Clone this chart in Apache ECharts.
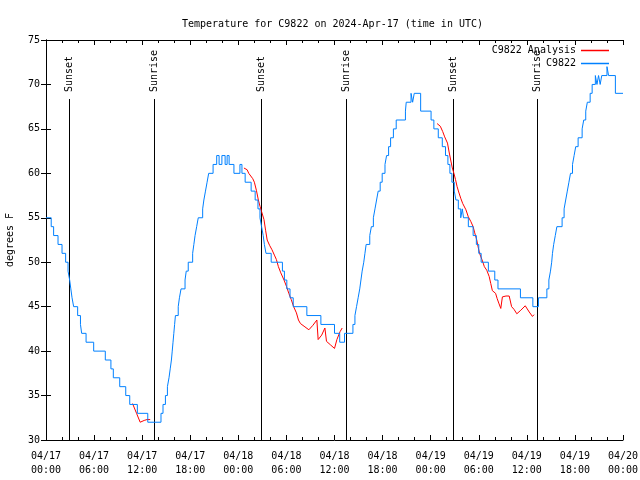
<!DOCTYPE html>
<html>
<head>
<meta charset="utf-8">
<script src="https://cdn.jsdelivr.net/npm/echarts@6/dist/echarts.min.js"></script>
<style>html,body{margin:0;padding:0;background:#fff;}#c{width:640px;height:480px;}</style>
</head>
<body>
<div id="c"></div>
<script>
// Hours since 2024-04-17 00:00 UTC, temperature in degrees F
const stationName = 'C9822';
const analysisName = 'C9822 Analysis';
const titleText = 'Temperature for C9822 on 2024-Apr-17 (time in UTC)';

// Station observations (plateau start hour, value)
const c9822Day1 = [[0,55],[0.65,54],[0.95,53],[1.5,52],[2.0,51],[2.45,50],[2.75,49],[2.95,48],[3.1,47],[3.25,46],[3.45,45],[3.95,44],[4.3,43],[4.45,42],[5.0,41],[5.95,40],[7.4,39],[8.1,38],[8.4,37],[9.2,36],[9.95,35],[10.45,34],[11.4,33],[12.7,32],
  [14.35,33],[14.6,34],[14.9,35],[15.15,36],[15.35,37],[15.5,38],[15.65,39],[15.75,40],[15.85,41],[15.95,42],[16.05,43],[16.15,44],[16.5,45],[16.65,46],[16.85,47],[17.35,48],[17.5,49],[17.75,50],[18.3,51],[18.45,52],[18.6,53],[18.8,54],[19.0,55],[19.55,56],[19.7,57],[19.9,58],[20.1,59],[20.3,60],[20.85,61],[21.3,62],[21.6,61],[21.95,62],[22.35,61],[22.6,62],[22.85,61],[23.45,60]];
const c9822Day2 = [[24.2,61],[24.45,60],[24.85,59],[25.6,58],[26.1,57],[26.45,56],[26.7,55],[26.9,54],[27.1,53],[27.25,52],[27.45,51],[28.1,50],[29.5,49],[29.75,48],[30.05,47],[30.45,46],[30.85,45],[32.55,44],[34.3,43],[36.0,42],[36.65,41],[37.25,42],
  [38.3,43],[38.55,44],[38.75,45],[38.95,46],[39.15,47],[39.3,48],[39.45,49],[39.65,50],[39.8,51],[39.95,52],[40.4,53],[40.6,54],[40.85,55],[41.05,56],[41.25,57],[41.45,58],[41.7,59],[41.95,60],[42.3,61],[42.5,62],[42.75,63],[43.0,64],[43.35,65],[43.7,66],[44.85,67],[44.95,68],[45.55,69],[45.75,68],[45.95,69],[46.75,67]];
const c9822Day3 = [[48.05,66],[48.4,65],[48.95,64],[49.45,63],[49.85,62],[50.15,61],[50.4,60],[50.65,59],[50.95,58],[51.15,57],[51.45,56],[51.75,55],[51.95,56],[52.1,55],[52.7,54],[53.3,53],[53.7,52],[54.0,51],[54.3,50],[55.2,49],[56.0,48],[56.4,47],[59.2,46],[60.75,45],[61.45,46],
  [62.5,47],[62.75,48],[62.95,49],[63.1,50],[63.2,51],[63.35,52],[63.55,53],[63.75,54],[64.4,55],[64.65,56],[64.85,57],[65.05,58],[65.25,59],[65.45,60],[65.7,61],[65.9,62],[66.1,63],[66.4,64],[66.9,65],[67.1,66],[67.35,67],[67.55,68],[67.9,69],[68.15,70],[68.55,71],[68.75,70],[68.95,71],[69.15,70],[69.35,71],[70.0,72],[70.2,71],[71.05,69],[72,69]];

// Analysis segments
const analysisSeg1 = [[10.8,34.1],[11.0,34.0],[11.3,33.0],[11.75,32.0],[12.25,32.2],[12.6,32.3],[13.0,32.3]];
const analysisSeg2 = [[24.7,60.6],[25.1,60.4],[25.3,60],[25.8,59.4],[26.0,59],[26.25,58.1],[26.5,57],[26.7,56.3],[26.9,55.7],[27.2,54.8],[27.4,53.6],[27.6,52.5],[27.9,51.9],[28.2,51.4],[28.5,50.8],[28.75,50.3],[29.0,49.5],[29.3,48.8],[29.7,48],[30.0,47.3],[30.3,46.5],[30.6,45.8],[30.9,45],[31.25,44.3],[31.5,43.5],[31.75,43.1],[32.2,42.8],[32.8,42.4],[33.3,42.9],[33.8,43.5],[33.96,41.3],[34.4,41.8],[34.8,42.6],[35.0,41.1],[35.5,40.7],[36.0,40.3],[36.3,41.3],[36.7,42.2],[36.96,42.6]];
const analysisSeg3 = [[48.8,65.6],[49.2,65.3],[49.5,64.7],[49.75,64.1],[50.1,63.4],[50.3,62.4],[50.5,61.5],[50.7,60.6],[50.9,60],[51.1,59.3],[51.3,58.5],[51.5,57.9],[51.75,57.2],[52.0,56.6],[52.4,55.9],[52.7,55.1],[53.0,54.6],[53.3,54],[53.5,53.3],[53.75,52.5],[53.9,51.8],[54.1,51.0],[54.4,50.3],[54.7,49.5],[55.0,49.1],[55.3,48.4],[55.5,47.6],[55.7,46.8],[55.9,47],[56.1,46.5],[56.3,45.9],[56.5,45.4],[56.75,44.8],[56.95,46.1],[57.4,46.2],[57.8,46.2],[58.1,45],[58.4,44.7],[58.75,44.2],[59.25,44.6],[59.8,45.1],[60.3,44.4],[60.7,43.9],[60.9,44.1]];

// Sun events
const sunTimes = [2.9, 13.5, 26.87, 37.38, 50.82, 61.22];
const sunLabels = ['Sunset','Sunrise','Sunset','Sunrise','Sunset','Sunrise'];

// Axis ranges
const xMin = 0, xMax = 72, xStep = 6;
const yMin = 30, yMax = 75, yStep = 5;
const startDay = 17, monthLabel = '04';

const FONT = 'DejaVu Sans Mono';
const chart = echarts.init(document.getElementById('c'), null, {renderer:'canvas'});

function xLabel(v){
  const d = startDay + Math.floor(v/24);
  const h = Math.round(v % 24);
  return monthLabel + '/' + String(d).padStart(2,'0') + '\n' + String(h).padStart(2,'0') + ':00';
}

const axisLineStyle = {color:'#000', width:1};
const redStyle = {color:'#ff0000', width:1};

const option = {
  animation:false,
  backgroundColor:'#fff',
  title:{
    text:titleText, left:327.5, top:14, textAlign:'center',
    textStyle:{fontFamily:FONT, fontSize:10, fontWeight:'normal', color:'#000'}
  },
  legend:{
    orient:'vertical', right:31, top:44.5, align:'right', padding:0,
    icon:'rect', itemWidth:28, itemHeight:1.5, itemGap:1,
    textStyle:{fontFamily:FONT, fontSize:10, color:'#000', lineHeight:12},
    data:[analysisName, stationName]
  },
  grid:{left:46, right:17, top:40, bottom:40, containLabel:false, outerBoundsMode:'none'},
  xAxis:[{
    type:'value', min:xMin, max:xMax, interval:xStep,
    axisLine:{show:true, lineStyle:axisLineStyle},
    axisTick:{show:true, inside:true, length:5, lineStyle:axisLineStyle},
    minorTick:{show:true, splitNumber:3, length:3, lineStyle:axisLineStyle},
    splitLine:{show:false},
    axisLabel:{formatter:xLabel, fontFamily:FONT, fontSize:10, color:'#000', margin:9, lineHeight:14}
  },{
    type:'value', position:'top', min:xMin, max:xMax, interval:xStep,
    axisLine:{show:true, lineStyle:axisLineStyle},
    axisTick:{show:true, inside:true, length:5, lineStyle:axisLineStyle},
    minorTick:{show:true, splitNumber:3, length:3, lineStyle:axisLineStyle},
    splitLine:{show:false}, axisLabel:{show:false}
  }],
  yAxis:[{
    type:'value', min:yMin, max:yMax, interval:yStep,
    name:'degrees F', nameLocation:'middle', nameRotate:90, nameGap:31,
    nameTextStyle:{fontFamily:FONT, fontSize:10, color:'#000'},
    axisLine:{show:true, lineStyle:axisLineStyle},
    axisTick:{show:true, inside:true, length:5, lineStyle:axisLineStyle},
    splitLine:{show:false},
    axisLabel:{fontFamily:FONT, fontSize:10, color:'#000', margin:6}
  },{
    type:'value', position:'right', min:yMin, max:yMax, interval:yStep,
    axisLine:{show:true, lineStyle:axisLineStyle},
    axisTick:{show:true, inside:true, length:5, lineStyle:axisLineStyle},
    splitLine:{show:false}, axisLabel:{show:false}
  }],
  series:[
    {
      type:'custom', name:'sun', xAxisIndex:0, yAxisIndex:0, silent:true, z:1,
      data: sunTimes.map(t => [t, yMin]),
      renderItem:function(params, api){
        const p = api.coord([api.value(0), api.value(1)]);
        const top = params.coordSys.y;
        const x = Math.round(p[0]) + 0.5;
        return {type:'group', children:[
          {type:'line', shape:{x1:x, y1:top+59, x2:x, y2:p[1]}, style:{stroke:'#000', lineWidth:1}},
          {type:'text', x:x, y:top+52, rotation:Math.PI/2,
           style:{text:sunLabels[params.dataIndex], align:'left', verticalAlign:'middle', font:'10px "'+FONT+'"', fill:'#000'}}
        ]};
      }
    },
    {type:'line', name:analysisName, data:analysisSeg1, symbol:'none', lineStyle:redStyle, itemStyle:{color:'#ff0000'}, z:2},
    {type:'line', name:analysisName, data:analysisSeg2, symbol:'none', lineStyle:redStyle, itemStyle:{color:'#ff0000'}, z:2},
    {type:'line', name:analysisName, data:analysisSeg3, symbol:'none', lineStyle:redStyle, itemStyle:{color:'#ff0000'}, z:2},
    {type:'line', name:stationName, data:c9822Day1.concat(c9822Day2, c9822Day3), step:'end', symbol:'none',
     lineStyle:{color:'#0080ff', width:1}, itemStyle:{color:'#0080ff'}, z:3}
  ]
};
chart.setOption(option);
</script>
</body>
</html>
